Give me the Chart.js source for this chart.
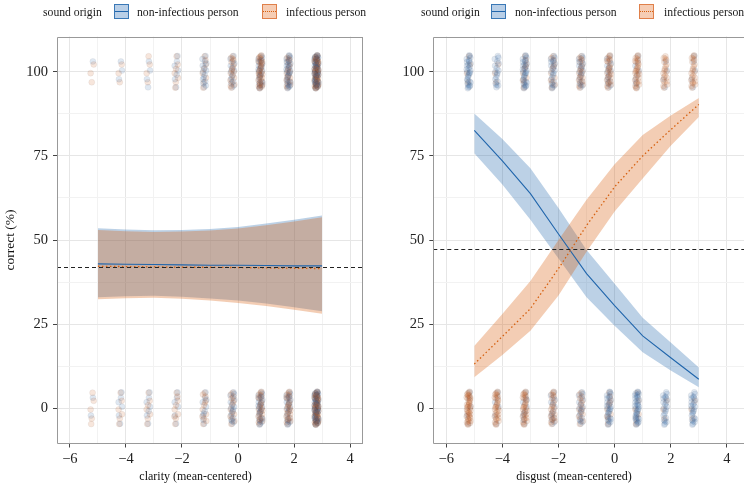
<!DOCTYPE html>
<html lang="en">
<head>
<meta charset="UTF-8">
<title>correct by clarity and disgust</title>
<script src="https://cdn.jsdelivr.net/npm/chart.js@4/dist/chart.umd.min.js"></script>
<style>
	body{margin:0;background:#fff;font-family:"Liberation Serif",serif;}
	#wrap{position:relative;width:744px;height:485px;overflow:hidden;}
	.panel{position:absolute;top:0;height:485px;}
	.lg{position:absolute;top:6px;font-size:11.7px;line-height:14px;color:#1a1a1a;white-space:nowrap;}
	.xt{position:absolute;top:469px;font-size:12px;line-height:14px;color:#111;white-space:nowrap;transform:translateX(-50%);}
	.key{position:absolute;top:4px;width:13px;height:13px;border:1.5px solid;}
	.key span{position:absolute;left:0;right:0;top:6px;border-top:1px solid;}
	.key.blue{background:#b9cfe7;border-color:#3a78b6;}
	.key.blue span{border-color:#2166ac;}
	.key.orange{background:#f6cdb4;border-color:#e0804a;}
	.key.orange span{border-top:1px dotted #d6600f;}
</style>
</head>
<body>
<div id="wrap">
	<div class="panel" style="left:0;width:372px"><canvas id="clarity" width="372" height="485"></canvas></div>
	<!-- a bit wider than its half: the right panel runs off the picture -->
	<div class="panel" style="left:372px;width:377px"><canvas id="disgust" width="377" height="485"></canvas></div>

	<div class="lg" style="left:43px">sound origin</div>
	<div class="key blue" style="left:114px"><span></span></div>
	<div class="lg" style="left:137px">non-infectious person</div>
	<div class="key orange" style="left:262px"><span></span></div>
	<div class="lg" style="left:286px">infectious person</div>

	<div class="lg" style="left:421px">sound origin</div>
	<div class="key blue" style="left:491px"><span></span></div>
	<div class="lg" style="left:515px">non-infectious person</div>
	<div class="key orange" style="left:639px"><span></span></div>
	<div class="lg" style="left:664px">infectious person</div>

	<div class="xt" style="left:195.5px">clarity (mean-centered)</div>
	<div class="xt" style="left:574px">disgust (mean-centered)</div>
</div>

<script>

	// where the raw trials sit (x) and where the model was evaluated
	var clusterX=[-5.2,-4.2,-3.2,-2.2,-1.2,-0.2,0.8,1.8,2.8];
	var fitX=[-5,-4,-3,-2,-1,0,1,2,3];

	// number of trials per clarity level, correct (100) / wrong (0)
	var clarityCorrectNonInf=[1,3,4,7,15,15,25,30,50];
	var clarityCorrectInf=[3,3,4,7,8,18,35,20,50];
	var clarityWrongNonInf=[2,6,7,6,10,18,25,22,50];
	var clarityWrongInf=[5,6,7,9,12,14,25,25,50];

	// same for disgust
	var disgustCorrectNonInf=[30,18,30,22,20,15,8,4,5];
	var disgustCorrectInf=[4,3,10,12,20,25,28,20,22];
	var disgustWrongNonInf=[5,6,10,14,18,28,35,22,25];
	var disgustWrongInf=[40,30,30,22,15,10,6,3,3];

	// model fit + 95% band
	var clarityFitNonInf=[42.9,42.8,42.7,42.6,42.5,42.5,42.4,42.3,42.3];
	var clarityLoNonInf=[33.0,33.3,33.4,33.1,32.6,32.0,31.1,30.0,28.8];
	var clarityHiNonInf=[53.5,53.1,52.9,53.0,53.3,53.9,54.9,56.0,57.3];
	var clarityFitInf=[42.2,42.1,42.0,41.9,41.9,41.8,41.7,41.6,41.5];
	var clarityLoInf=[32.4,32.7,32.8,32.5,32.0,31.3,30.4,29.3,28.1];
	var clarityHiInf=[53.0,52.6,52.4,52.5,52.8,53.4,54.4,55.5,56.8];

	var disgustFitNonInf=[82.6,73.5,63.8,51.8,40.0,30.5,21.5,15.0,8.6];
	var disgustLoNonInf=[75.8,66.5,56.0,44.5,33.0,24.5,16.6,11.2,6.2];
	var disgustHiNonInf=[87.6,80.0,71.3,59.5,47.0,37.0,26.9,19.5,12.1];
	var disgustFitInf=[13.1,21.3,29.6,41.5,54.3,65.8,75.0,82.8,90.3];
	var disgustLoInf=[9.2,15.8,23.0,33.5,46.5,58.5,68.3,78.0,86.6];
	var disgustHiInf=[18.5,28.0,37.8,50.0,62.0,72.5,81.2,87.0,92.2];

	// chance level (dashed)
	var clarityChance=42.1;
	var disgustChance=47.3;

	var yTicks=[0,25,50,75,100];

	// fixed jitter pattern (dx, dy)
	var JIT=[
		[0.02,3.1],[-0.05,-2.2],[0.06,0.4],[-0.01,-4.6],[0.04,4.7],[-0.06,1.8],[0.01,-0.9],[-0.04,-3.5],[0.07,2.5],[-0.02,-1.6],
		[0.05,-4.1],[-0.07,3.8],[0.00,1.1],[0.03,-2.9],[-0.05,0.0],[0.06,4.2],[-0.01,-3.9],[0.02,-0.4],[-0.06,2.9],[0.04,1.6],
		[-0.03,-4.9],[0.01,3.4],[-0.02,-1.2],[0.07,-3.2],[-0.07,0.7],[0.02,4.9],[-0.04,-2.6],[0.05,-0.2],[-0.01,2.1],[0.03,-4.4],
		[-0.05,4.4],[0.00,-1.9],[0.04,0.9],[-0.06,-3.0],[0.01,3.9],[-0.02,1.4],[0.06,-1.0],[-0.03,2.6],[0.02,-3.7],[-0.07,-0.6]
	];

	var BLUE="38,98,165", ORANGE="200,88,22";
	var FONT='"Liberation Serif", "Times New Roman", serif';

	// both groups in one cloud so the colours interleave like the original
	function cloud(nonInf,inf,level) {
		var pts=[];
		[[nonInf,BLUE,1],[inf,ORANGE,-1]].forEach(function(g){
			g[0].forEach(function(c,i){
				var n=Math.min(c,JIT.length);
				var a=Math.min(0.45,0.15*Math.max(1,c/JIT.length));
				for(var k=0;k<n;k++) {
					var j=JIT[k];
					pts.push({x:clusterX[i]+g[2]*j[0],y:level+g[2]*j[1],a:a,c:g[1],k:k});
				}
			});
		});
		// interleave by jitter index
		pts.sort(function(p,q){ return p.k-q.k; });
		return pts;
	}

	function xy(ys) {
		return fitX.map(function(x,i){ return {x:x,y:ys[i]}; });
	}

	function fmt(v) {
		v=Math.round(v);
		return v<0 ? "\u2212"+Math.abs(v) : String(v);
	}

	var frame={
		id:"frame",
		afterDatasetsDraw:function(chart,args,opts){
			var ctx=chart.ctx, a=chart.chartArea;
			var y=Math.round(chart.scales.y.getPixelForValue(opts.chance))+0.5;
			var l=Math.round(a.left)+0.5, t=Math.round(a.top)+0.5,
				r=Math.round(a.right)-0.5, b=Math.round(a.bottom)-0.5;
			ctx.save();
			ctx.strokeStyle="#222";
			ctx.lineWidth=1;
			ctx.setLineDash([4,3]);
			ctx.beginPath();
			ctx.moveTo(a.left,y);
			ctx.lineTo(a.right,y);
			ctx.stroke();
			ctx.setLineDash([]);
			ctx.strokeStyle="#999";
			ctx.beginPath();
			ctx.moveTo(a.right,t);
			ctx.lineTo(l,t);
			ctx.lineTo(l,b);
			ctx.lineTo(a.right,b);
			if(opts.rightEdge) {
				ctx.moveTo(r,t);
				ctx.lineTo(r,b);
			}
			ctx.stroke();
			ctx.restore();
		}
	};

	function Panel(id,o) {
		var band={type:"line",borderWidth:0,pointRadius:0};

		var datasets=[
			{
				type:"scatter",
				order:10,
				data:cloud(o.correctNonInf,o.correctInf,100).concat(cloud(o.wrongNonInf,o.wrongInf,0)),
				pointRadius:3,
				pointBorderWidth:0.7,
				pointBackgroundColor:function(c){ return c.raw ? "rgba("+c.raw.c+","+c.raw.a+")" : "transparent"; },
				pointBorderColor:function(c){ return c.raw ? "rgba(50,45,45,"+(c.raw.a*0.55)+")" : "transparent"; }
			},
			Object.assign({data:xy(o.loNonInf),fill:false,order:6},band),
			Object.assign({data:xy(o.hiNonInf),fill:1,order:6,backgroundColor:"rgba(33,102,172,0.3)"},band),
			Object.assign({data:xy(o.loInf),fill:false,order:5},band),
			Object.assign({data:xy(o.hiInf),fill:3,order:5,backgroundColor:"rgba(217,95,14,0.31)"},band),
			{type:"line",order:1,data:xy(o.fitNonInf),borderColor:"#2166ac",borderWidth:1.1,pointRadius:0,fill:false},
			{type:"line",order:0,data:xy(o.fitInf),borderColor:"#d6600f",borderWidth:1.3,borderDash:[1.5,2.5],pointRadius:0,fill:false}
		];

		new Chart(document.getElementById(id),{
			type:"line",
			data:{datasets:datasets},
			plugins:[frame],
			options:{
				responsive:false,
				animation:false,
				events:[],
				devicePixelRatio:1,
				layout:{padding:{left:0,top:36.5,right:o.padRight,bottom:0}},
				plugins:{legend:{display:false},tooltip:{enabled:false},frame:{chance:o.chance,rightEdge:o.rightEdge}},
				scales:{
					x:{
						type:"linear",
						min:-6.46,max:o.xMax,
						afterFit:function(s){ s.height=41.5; },
						border:{display:false},
						grid:{
							color:function(c){ return Math.round(c.tick.value)%2===0 ? "#e6e6e6" : "#f2f2f2"; },
							tickColor:function(c){ return Math.round(c.tick.value)%2===0 ? "#444" : "rgba(0,0,0,0)"; },
							tickLength:4
						},
						ticks:{
							stepSize:1,includeBounds:false,autoSkip:false,maxRotation:0,padding:3,
							color:"#222",font:{family:FONT,size:14.5},
							callback:function(v){ return Math.round(v)%2===0 ? fmt(v) : ""; }
						}
					},
					y:{
						min:-10.5,max:110.5,
						afterFit:function(s){ s.width=o.yWidth; },
						border:{display:false},
						grid:{
							color:function(c){ return yTicks.indexOf(c.tick.value)>=0 ? "#e6e6e6" : "#f2f2f2"; },
							tickColor:function(c){ return yTicks.indexOf(c.tick.value)>=0 ? "#444" : "rgba(0,0,0,0)"; },
							tickLength:4
						},
						ticks:{
							stepSize:12.5,includeBounds:false,autoSkip:false,padding:5,
							color:"#222",font:{family:FONT,size:14.5},
							callback:function(v){ return yTicks.indexOf(v)>=0 ? fmt(v) : ""; }
						},
						title:{display:o.yTitle!=="",text:o.yTitle,color:"#111",font:{family:FONT,size:13.5},padding:{top:2,bottom:0}}
					}
				}
			}
		});
	}

	new Panel("clarity",{
		correctNonInf:clarityCorrectNonInf,correctInf:clarityCorrectInf,
		wrongNonInf:clarityWrongNonInf,wrongInf:clarityWrongInf,
		fitNonInf:clarityFitNonInf,loNonInf:clarityLoNonInf,hiNonInf:clarityHiNonInf,
		fitInf:clarityFitInf,loInf:clarityLoInf,hiInf:clarityHiInf,
		chance:clarityChance,
		yTitle:"correct (%)",
		yWidth:57,padRight:9,xMax:4.46,rightEdge:true
	});

	new Panel("disgust",{
		correctNonInf:disgustCorrectNonInf,correctInf:disgustCorrectInf,
		wrongNonInf:disgustWrongNonInf,wrongInf:disgustWrongInf,
		fitNonInf:disgustFitNonInf,loNonInf:disgustLoNonInf,hiNonInf:disgustHiNonInf,
		fitInf:disgustFitInf,loInf:disgustLoInf,hiInf:disgustHiInf,
		chance:disgustChance,
		yTitle:"",
		yWidth:61.3,padRight:0,xMax:4.62,rightEdge:false
	});

</script>
</body>
</html>
